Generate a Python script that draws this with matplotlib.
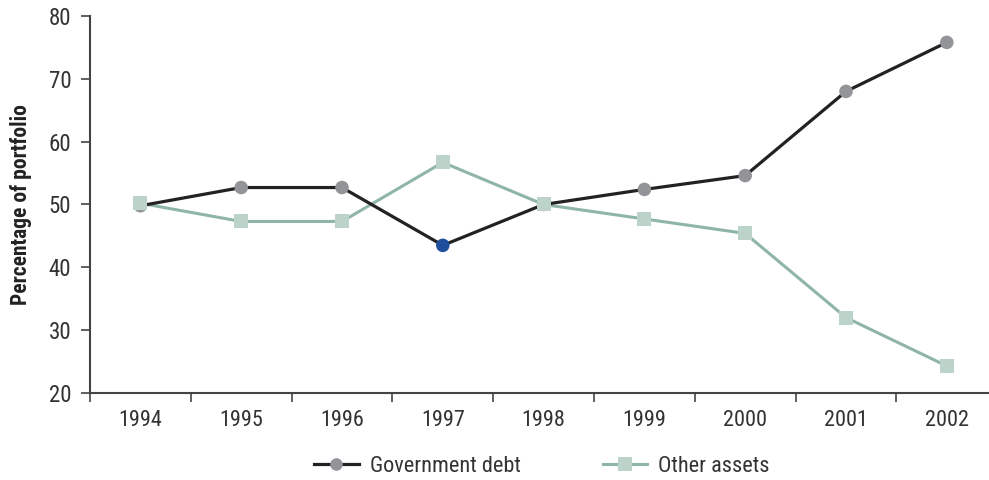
import matplotlib
matplotlib.use("Agg")
import matplotlib.pyplot as plt
from matplotlib import font_manager
from matplotlib.lines import Line2D
import numpy as np

years = ["1994", "1995", "1996", "1997", "1998", "1999", "2000", "2001", "2002"]
gov_debt = [49.8, 52.7, 52.7, 43.5, 50.0, 52.4, 54.6, 68.0, 75.8]
other_assets = [50.2, 47.3, 47.3, 56.7, 50.0, 47.7, 45.4, 32.0, 24.3]

names = {f.name for f in font_manager.fontManager.ttflist}
fam = "Roboto"
for cand in ["Roboto Condensed", "Liberation Sans Narrow", "Open Sans Condensed", "Roboto"]:
    if cand in names:
        fam = cand
        break
plt.rcParams["font.family"] = [fam, "DejaVu Sans"]

fig = plt.figure(figsize=(9.89, 4.8), dpi=100)
ax = fig.add_axes([90/989, 1-393/480, (989-90)/989, (393-16)/480])

x = np.arange(len(years))
gov_colors = ["#939498"] * len(years)
gov_colors[3] = "#1f4e9c"

ax.plot(x, other_assets, color="#8fb5a6", lw=2.2, zorder=2)
ax.plot(x, gov_debt, color="#222222", lw=2.3, zorder=3)
ax.scatter(x, gov_debt, marker="o", s=95, color=gov_colors, zorder=4, linewidths=0)
ax.scatter(x, other_assets, marker="s", s=115, color="#bcd3c9", zorder=5, linewidths=0)

ax.set_yticks([20, 30, 40, 50, 60, 70, 80])
ax.set_xticks(x)
ax.set_xticklabels(years)
ax.set_xticks(np.arange(-0.5, len(years), 1.0), minor=True)
ax.set_ylim(20, 80)
ax.set_xlim(-0.5, -0.5 + (989-90)/100.8)
ax.tick_params(axis="x", which="major", length=0, pad=12, labelsize=16, labelcolor="#333333")
ax.tick_params(axis="x", which="minor", length=6.5, width=1.2, color="#444444")
ax.tick_params(axis="y", length=6.5, width=1.2, color="#444444", labelsize=16.5, labelcolor="#333333", pad=7)

for s in ["top", "right"]:
    ax.spines[s].set_visible(False)
for s in ["left", "bottom"]:
    ax.spines[s].set_color("#444444")
    ax.spines[s].set_linewidth(1.5)

ax.set_ylabel("Percentage of portfolio", fontsize=15.5, fontweight="bold", color="#222222", labelpad=12)

h1 = Line2D([], [], color="#222222", lw=2.3, marker="o", markersize=9, markerfacecolor="#939498", markeredgewidth=0)
h2 = Line2D([], [], color="#8fb5a6", lw=2.2, marker="s", markersize=10, markerfacecolor="#bcd3c9", markeredgewidth=0)
fig.legend([h1, h2], ["Government debt", "Other assets"], loc="center", bbox_to_anchor=(542/989, 1-466/480),
           ncol=2, frameon=False, fontsize=16, handlelength=2.0, handletextpad=0.5, columnspacing=3.7,
           labelcolor="#333333")

fig.savefig("out.png", dpi=100)
